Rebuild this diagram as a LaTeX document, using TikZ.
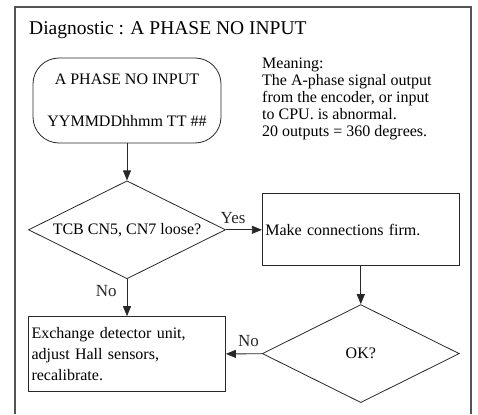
\documentclass[tikz,border=0pt]{standalone}
\usepackage{fontspec}
\setmainfont{Liberation Serif}
\usetikzlibrary{arrows.meta,positioning,shapes.geometric}
\definecolor{LineGray}{RGB}{40,40,40}
\newcommand{\bodyfont}{\fontsize{16}{17}\selectfont}
\newcommand{\headfont}{\fontsize{19.5}{22}\selectfont}
\tikzset{
  frame/.style={draw=LineGray!80,line width=1.1pt},
  codebox/.style={draw=LineGray,rounded corners=26pt,line width=0.8pt,
    minimum width=188pt,minimum height=85pt,align=center,font=\bodyfont},
  decision/.style={diamond,draw=LineGray,line width=0.8pt,inner sep=0pt,
    aspect=2,minimum width=197pt,minimum height=98pt,align=center,
    font=\bodyfont},
  process/.style={draw=LineGray,line width=0.8pt,inner sep=3pt,
    minimum width=197pt,align=left,anchor=center,font=\bodyfont},
  arrow/.style={-{Triangle[length=10pt,width=8pt]},line width=0.8pt,LineGray},
  tag/.style={font=\fontsize{17}{18}\selectfont,inner sep=1pt}
}

\begin{document}
\begin{tikzpicture}[x=1pt,y=-1pt]
      \useasboundingbox (0,0) rectangle (478,414);
      \draw[frame] (15,414) |- (471,7) -- (471,414);
      \node[anchor=west,font=\headfont,inner sep=0pt] (title) at (29,30)
        {Diagnostic : A PHASE NO INPUT};
      \node[anchor=north west,align=left,font=\bodyfont,inner sep=0pt]
        (meaning) at (262,58)
        {Meaning:\\The A-phase signal output\\from the encoder, or input\\
         to CPU. is abnormal.\\20 outputs = 360 degrees.};

      \node[codebox] (code) at (127,100.5)
        {A PHASE NO INPUT\\[25pt]YYMMDDhhmm TT \#\#};
      \node[decision,below=37pt of code] (loose) {TCB CN5, CN7 loose?};
      \node[process,right=36pt of loose,minimum height=72pt,
        text width=191pt] (firm) {Make connections firm.};
      \node[decision,below=38pt of firm] (check) {OK?};
      \node[process,below=37pt of loose,minimum height=75pt,
        text width=191pt,font=\fontsize{16}{21}\selectfont] (swap)
        {Exchange detector unit,\\adjust Hall sensors,\\recalibrate.};

      \draw[arrow] (code) -- (loose);
      \draw[arrow] (loose) -- node[tag,above=5pt,pos=0.2]{Yes} (firm);
      \draw[arrow] (loose) -- node[tag,left=9pt,pos=0.32]{No} (swap);
      \draw[arrow] (firm) -- (check);
      \draw[arrow] (check) -- node[tag,above=6pt,pos=0.38]{No} (swap);
    \end{tikzpicture}
\end{document}
